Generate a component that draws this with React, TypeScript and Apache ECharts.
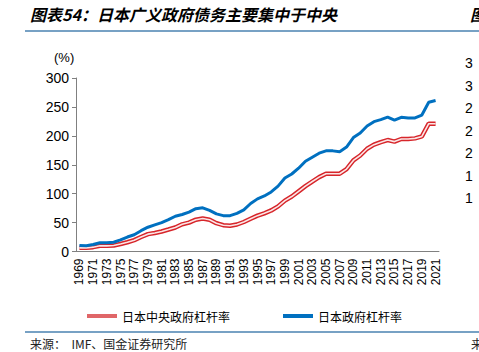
import React, { useEffect, useRef } from "react";
import * as echarts from "echarts";

const years: string[] = [];
for (let y = 1969; y <= 2021; y++) years.push(String(y));

const generalGov: number[] = [
  10.4, 10, 12, 15, 15, 16, 20, 25, 29, 36,
  42, 46, 50, 55, 61, 64, 68, 74, 75.5, 71,
  65, 62, 62, 66, 72, 83, 91, 96, 103, 113,
  127, 134, 144, 156, 163, 170, 174, 174, 172.6, 180.5,
  197, 205, 217, 224.5, 228, 232.5, 227, 232, 231, 231,
  236, 258, 261,
];

const centralGov: number[] = [
  6.3, 6.3, 7.5, 9.8, 9.8, 10.4, 13, 16, 19.6, 25,
  30, 32, 34.6, 38, 41.5, 47, 50, 55, 57, 55,
  49, 45.5, 44.5, 46.7, 51, 56.6, 62, 66, 71, 78,
  88, 95, 104, 113, 121, 128.6, 134.5, 134.5, 134.5, 142.5,
  157.5, 166, 177.7, 184.7, 189, 192.7, 190, 194.5, 194.5, 195.6,
  199, 221, 221,
];

const seriesNames = ["日本中央政府杠杆率", "日本政府杠杆率"];
const titleText = "图表54：日本广义政府债务主要集中于中央";
const sourceText = "来源：  IMF、国金证券研究所";
const rightEdgeDigits = ["3", "3", "2", "2", "2", "1", "1"];

export default function App() {
  const ref = useRef<HTMLDivElement>(null);
  useEffect(() => {
    if (!ref.current) return;
    const chart = echarts.init(ref.current, undefined, { renderer: "svg" });
    const sans = "'Liberation Sans', Arial, sans-serif";
    const cjk = "'Noto Sans CJK SC', sans-serif";
    const graphics: any[] = [
      {
        type: "text",
        left: 30,
        top: 6,
        style: {
          text: titleText,
          font: `italic bold 16px ${cjk}`,
          fill: "#000",
        },
      },
      {
        type: "text",
        left: 470,
        top: 6,
        style: { text: "图", font: `italic bold 16px ${cjk}`, fill: "#000" },
      },
      {
        type: "line",
        shape: { x1: 25, y1: 31, x2: 479, y2: 31 },
        style: { stroke: "#4a82b0", lineWidth: 1.5 },
      },
      {
        type: "line",
        shape: { x1: 25, y1: 332, x2: 479, y2: 332 },
        style: { stroke: "#4a82b0", lineWidth: 1.5 },
      },
      {
        type: "text",
        left: 30,
        top: 337,
        style: { text: sourceText, font: `12px ${cjk}`, fill: "#222" },
      },
      {
        type: "text",
        left: 471,
        top: 337,
        style: { text: "来", font: `12px ${cjk}`, fill: "#222" },
      },
      {
        type: "text",
        left: 54,
        top: 51,
        style: { text: "(%)", font: `13px ${sans}`, fill: "#000" },
      },
    ];
    rightEdgeDigits.forEach((d, i) => {
      graphics.push({
        type: "text",
        left: 465,
        top: 56 + i * 22.5,
        style: { text: d, font: `14px ${sans}`, fill: "#000" },
      });
    });

    chart.setOption({
      animation: false,
      backgroundColor: "#fff",
      grid: { left: 76, top: 78, width: 363, height: 173.5 },
      legend: {
        left: 82,
        top: 305,
        icon: "rect",
        itemWidth: 30,
        itemHeight: 4,
        itemGap: 53,
        textStyle: { fontSize: 12, color: "#000", fontFamily: cjk },
        data: [
          { name: seriesNames[0], itemStyle: { color: "#e06668" } },
          { name: seriesNames[1], itemStyle: { color: "#0070c0" } },
        ],
      },
      xAxis: {
        type: "category",
        data: years,
        boundaryGap: true,
        axisLine: { lineStyle: { color: "#808080", width: 1 } },
        axisTick: { interval: 1, length: 5, lineStyle: { color: "#808080" } },
        axisLabel: {
          interval: 1,
          rotate: 90,
          fontSize: 12,
          color: "#000",
          fontFamily: sans,
          margin: 7,
        },
      },
      yAxis: {
        type: "value",
        min: 0,
        max: 300,
        interval: 50,
        splitLine: { show: false },
        axisLine: { show: true, lineStyle: { color: "#808080", width: 1 } },
        axisTick: { show: true, length: 4, lineStyle: { color: "#808080" } },
        axisLabel: { fontSize: 14, color: "#000", fontFamily: sans, margin: 7 },
      },
      series: [
        {
          name: seriesNames[0],
          type: "line",
          data: centralGov,
          symbol: "none",
          color: "#d7262b",
          lineStyle: { color: "#d7262b", width: 4.5 },
          z: 2,
        },
        {
          name: "inner",
          type: "line",
          data: centralGov,
          symbol: "none",
          silent: true,
          color: "#fbe6e6",
          lineStyle: { color: "#fbe6e6", width: 1.6 },
          z: 3,
        },
        {
          name: seriesNames[1],
          type: "line",
          data: generalGov,
          symbol: "none",
          color: "#0070c0",
          lineStyle: { color: "#0070c0", width: 3 },
          z: 4,
        },
      ],
      graphic: graphics,
    });
    return () => chart.dispose();
  }, []);
  return (
    <div
      ref={ref}
      style={{ position: "fixed", left: 0, top: 0, width: 479, height: 352 }}
    />
  );
}
